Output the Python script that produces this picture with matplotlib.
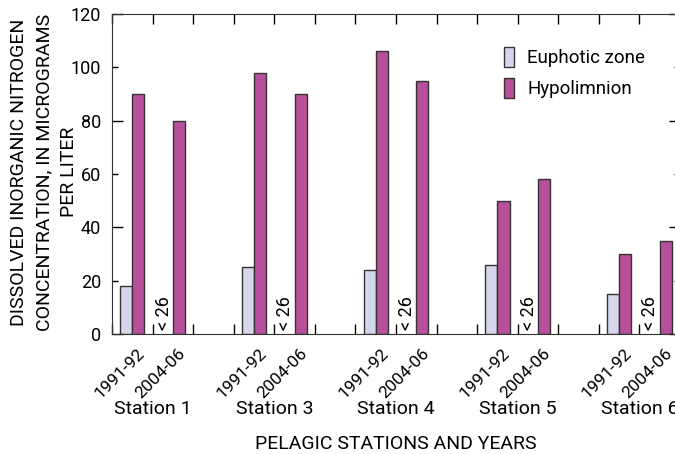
import numpy as np
import matplotlib.pyplot as plt
import matplotlib.transforms as mtransforms

plt.rcParams['font.family'] = ['Roboto', 'DejaVu Sans']

#--------------------------------------------
# data
stations = ['Station 1', 'Station 3', 'Station 4', 'Station 5', 'Station 6']
periods = ['1991-92', '2004-06']
euphotic_9192 = [18, 25, 24, 26, 15]
hypo_9192 = [90, 98, 106, 50, 30]
hypo_0406 = [80, 90, 95, 58, 35]
euphotic_0406_note = '< 26'
ylabel_lines = ['DISSOLVED INORGANIC NITROGEN', 'CONCENTRATION, IN MICROGRAMS', 'PER LITER']

col_eu = '#d6d6ea'
col_hy = '#b84f9b'

fig = plt.figure(figsize=(6.75, 4.54), dpi=100)
ax = fig.add_axes([112/675, 120/454, 568/675, 320/454])

w = 0.3
for i in range(len(stations)):
    s0 = 3*i          # start of 1991-92 slot
    s1 = 3*i + 1      # start of 2004-06 slot
    ax.bar(s0 + 0.2, euphotic_9192[i], width=w, align='edge', color=col_eu,
           edgecolor='#333333', linewidth=1, label='Euphotic zone' if i == 0 else None)
    ax.bar(s0 + 0.5, hypo_9192[i], width=w, align='edge', color=col_hy,
           edgecolor='#333333', linewidth=1, label='Hypolimnion' if i == 0 else None)
    ax.bar(s1 + 0.5, hypo_0406[i], width=w, align='edge', color=col_hy,
           edgecolor='#333333', linewidth=1)
    ax.text(s1 + 0.27, 1.5, euphotic_0406_note, rotation=90, ha='center', va='bottom', fontsize=13)

ax.set_xlim(0, 14)
ax.set_ylim(0, 120)

ax.set_xticks(np.arange(0, 15))
ax.set_xticklabels([])
ax.tick_params(axis='x', direction='in', top=True, bottom=True, length=7, width=1)
ax.set_yticks(np.arange(0, 121, 40))
ax.set_yticks(np.arange(20, 121, 40), minor=True)
ax.tick_params(axis='y', which='major', direction='in', left=True, right=True, length=8, width=1)
ax.tick_params(axis='y', which='minor', direction='in', left=True, right=True, length=4, width=1)
ax.yaxis.set_major_formatter(plt.FuncFormatter(lambda v, p: '%d' % v))
ax.yaxis.set_minor_formatter(plt.FuncFormatter(lambda v, p: '%d' % v))
ax.tick_params(axis='y', which='both', labelsize=13, pad=8)
for sp in ax.spines.values():
    sp.set_color('#333333')

trans = mtransforms.blended_transform_factory(ax.transData, ax.transAxes)
for i in range(len(stations)):
    for k in range(2):
        xc = 3*i + k + 0.5
        ax.text(xc + 0.38, -0.036, periods[k], transform=trans, rotation=45,
                ha='right', va='top', fontsize=12.5)
    ax.text(3*i + 1, -0.205, stations[i], transform=trans, ha='center', va='top', fontsize=14)

ax.text(0.5, -0.315, 'PELAGIC STATIONS AND YEARS', transform=ax.transAxes,
        ha='center', va='top', fontsize=14)

# y label, one line at a time so each one is centred
for j, line in enumerate(ylabel_lines):
    fig.text((19 + 25*j)/675, 1 - 172/454, line, rotation=90,
             ha='center', va='center', fontsize=14)

ax.legend(loc='upper left', bbox_to_anchor=(0.66, 0.95), frameon=False, fontsize=13.5,
          handlelength=0.55, handleheight=1.3, handletextpad=0.7, labelspacing=0.55)

fig.savefig('out.png', dpi=100)
